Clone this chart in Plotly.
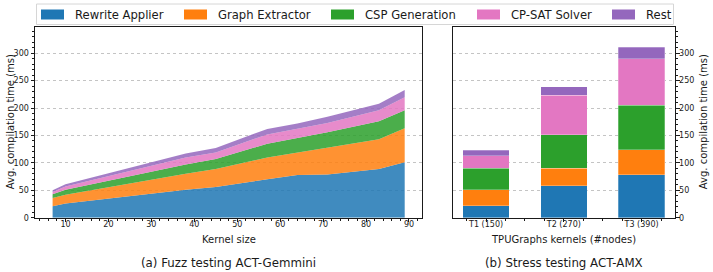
import plotly.graph_objects as go

# ---- data ----
components = ["Rewrite Applier", "Graph Extractor", "CSP Generation", "CP-SAT Solver", "Rest"]
colors = ["#1f77b4", "#ff7f0e", "#2ca02c", "#e377c2", "#9467bd"]
area_colors = ["rgba(31,119,180,0.85)", "rgba(255,127,14,0.85)", "rgba(44,160,44,0.85)",
               "rgba(227,119,194,0.85)", "rgba(148,103,189,0.85)"]

kernel_size = [7, 10, 38, 45, 57, 64, 71, 83, 89]
rewrite_applier = [21, 26, 51, 56, 70, 78, 79, 89, 101]
graph_extractor = [15, 16, 29, 33, 40, 41, 49, 54, 62]
csp_generation = [7, 9, 17, 18, 25, 26, 28, 33, 33]
cp_sat_solver = [4, 6, 13, 12, 17, 18, 17, 20, 24]
rest = [3, 4, 7, 8, 10, 9, 11, 12, 13]

kernels = ["T1 (150)", "T2 (270)", "T3 (390)"]
bar_rewrite = [22, 58, 78]
bar_graph = [29, 32, 46]
bar_csp = [39, 61, 81]
bar_cpsat = [23, 72, 85]
bar_rest = [10, 16, 21]

area_series = [rewrite_applier, graph_extractor, csp_generation, cp_sat_solver, rest]
bar_series = [bar_rewrite, bar_graph, bar_csp, bar_cpsat, bar_rest]

# the page body margin is removed by a small post-script, so the figure fills the window
W, H = 713, 272
FONT = "DejaVu Sans"
INK = "#1a1a1a"

fig = go.Figure()

for name, vals, fc in zip(components, area_series, area_colors):
    fig.add_trace(go.Scatter(
        x=kernel_size, y=vals, name=name, stackgroup="one", mode="lines",
        line=dict(width=0), fillcolor=fc, showlegend=False,
        hoveron="points+fills", xaxis="x", yaxis="y"))

for name, vals, c in zip(components, bar_series, colors):
    fig.add_trace(go.Bar(
        x=[0, 1, 2], y=vals, name=name,
        marker=dict(color=c, line=dict(width=0.6, color="rgba(255,255,255,0.45)")),
        width=0.6, showlegend=False, xaxis="x2", yaxis="y2"))


def px_x(p):
    return p / W


def px_y(p):
    return 1 - p / H


top, bottom = 26.7, 217.7
ydom = [px_y(bottom), px_y(top)]
ymax = 348.5
yticks = [0, 50, 100, 150, 200, 250, 300]

axis_common = dict(showline=True, linecolor=INK, linewidth=1, mirror=True,
                   ticks="outside", ticklen=3.5, tickwidth=0.8, tickcolor=INK,
                   tickfont=dict(family=FONT, size=8, color=INK), zeroline=False,
                   automargin=False)
minor_common = dict(ticks="outside", ticklen=2, tickwidth=0.6, tickcolor=INK, showgrid=False)
grid_common = dict(showgrid=True, gridcolor="#c4c4c4", griddash="dot", gridwidth=0.8)

fig.update_layout(
    width=W, height=H, margin=dict(l=0, r=0, t=0, b=0),
    paper_bgcolor="white", plot_bgcolor="white", barmode="stack", showlegend=False,
    font=dict(family=FONT, color=INK),
    xaxis=dict(domain=[px_x(35), px_x(422.3)], range=[2.9, 93.1],
               tickvals=[10, 20, 30, 40, 50, 60, 70, 80, 90], showgrid=False, ticklabelstandoff=-5,
               minor=dict(dtick=2, **minor_common), anchor="y", **axis_common),
    yaxis=dict(domain=ydom, range=[0, ymax], tickvals=yticks,
               minor=dict(dtick=10, **minor_common), anchor="x", **grid_common, **axis_common),
    xaxis2=dict(domain=[px_x(452.7), px_x(675)], range=[-0.43, 2.43], tickvals=[0, 1, 2], ticktext=kernels,
                showgrid=False, ticklabelstandoff=-5,
                minor=dict(dtick=0.25, **minor_common), anchor="y2", **axis_common),
    yaxis2=dict(domain=ydom, range=[0, ymax], tickvals=yticks, side="right", ticklabelstandoff=-2,
                minor=dict(dtick=10, **minor_common), anchor="x2", **grid_common, **axis_common),
)

ann = []
shapes = []

# axis titles and subplot captions
title_font = dict(size=10, family=FONT, color=INK)
cap_font = dict(size=11.8, family=FONT, color=INK)
ann.append(dict(text="Kernel size", x=px_x(228.7), y=px_y(239.5), font=title_font))
ann.append(dict(text="TPUGraphs kernels (#nodes)", x=px_x(563.9), y=px_y(239.5), font=title_font))
ann.append(dict(text="Avg. compilation time (ms)", x=px_x(10), y=px_y(122.2), textangle=-90, font=title_font))
ann.append(dict(text="Avg. compilation time (ms)", x=px_x(703), y=px_y(122.2), textangle=-90, font=title_font))
ann.append(dict(text="(a) Fuzz testing ACT-Gemmini", x=px_x(228.7), y=px_y(263), font=cap_font))
ann.append(dict(text="(b) Stress testing ACT-AMX", x=px_x(563.9), y=px_y(263), font=cap_font))

# legend (drawn across both panels, like the reference)
shapes.append(dict(type="rect", xref="paper", yref="paper",
                   x0=px_x(36.5), x1=px_x(673.5), y0=px_y(24.5), y1=px_y(4),
                   line=dict(color="#d6d6d6", width=1), fillcolor="rgba(255,255,255,0.8)", layer="above"))
swatch_x = [41, 184, 331, 477, 612]
for name, c, sx in zip(components, colors, swatch_x):
    shapes.append(dict(type="rect", xref="paper", yref="paper",
                       x0=px_x(sx), x1=px_x(sx + 23), y0=px_y(19.5), y1=px_y(9.5),
                       line=dict(width=0), fillcolor=c, layer="above"))
    ann.append(dict(text=name, x=px_x(sx + 32), y=px_y(14.5), xanchor="left",
                    font=dict(size=11.6, family=FONT, color=INK)))

for a in ann:
    a.setdefault("xref", "paper")
    a.setdefault("yref", "paper")
    a.setdefault("showarrow", False)
    a.setdefault("xanchor", "center")
    a.setdefault("yanchor", "middle")

fig.update_layout(annotations=ann, shapes=shapes)

fig.write_html("out.html", config={"displayModeBar": False},
               post_script="document.body.style.margin='0';document.body.style.overflow='hidden';")
